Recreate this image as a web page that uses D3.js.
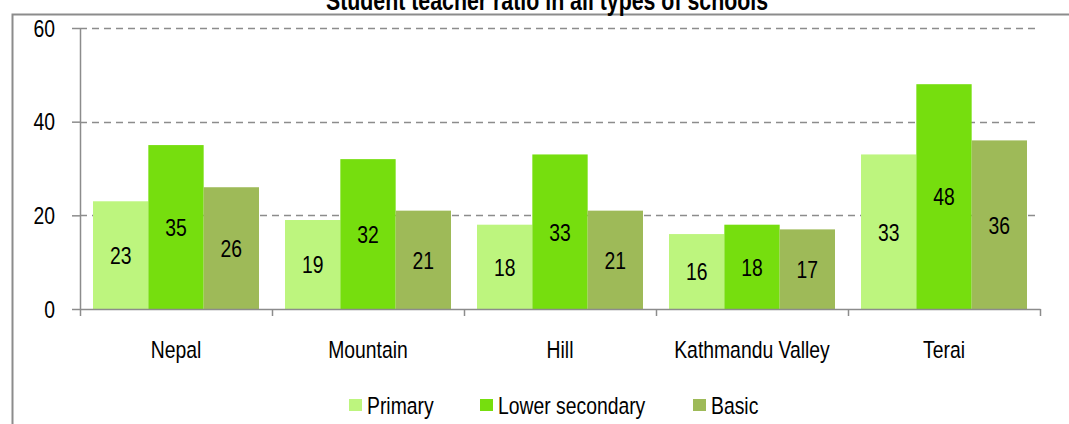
<!DOCTYPE html>
<html>
<head>
<meta charset="utf-8">
<script src="https://cdn.jsdelivr.net/npm/d3@7"></script>
<style>
  html, body { margin: 0; padding: 0; background: #ffffff; }
  svg { display: block; }
  text { font-family: "Liberation Sans", Arial, sans-serif; fill: #000; }
</style>
</head>
<body>
<script>
// Student teacher ratio by region and school type
const regions = ["Nepal", "Mountain", "Hill", "Kathmandu Valley", "Terai"];
const seriesNames = ["Primary", "Lower secondary", "Basic"];
const primary = [23, 19, 18, 16, 33];
const lowerSecondary = [35, 32, 33, 18, 48];
const basic = [26, 21, 21, 17, 36];
const yTicks = [0, 20, 40, 60];
const colors = ["#bdf57e", "#76de0e", "#9eba58"];
const titleText = "Student teacher ratio in all types of schools";

const seriesValues = [primary, lowerSecondary, basic];

const W = 1069, H = 424;
const plot = { left: 80, right: 1040, top: 28, bottom: 309 };
const textScale = 0.79;     // narrow rendering of all labels
const fontSize = 24.5;
const grey = "#8c8c8c";

const svg = d3.select("body").append("svg")
  .attr("width", W).attr("height", H);

// chart frame
svg.append("path")
  .attr("d", `M12.5,${H} L12.5,14.5 L${W},14.5`)
  .attr("fill", "none").attr("stroke", grey).attr("stroke-width", 2);

const y = d3.scaleLinear().domain([0, 60]).range([plot.bottom, plot.top]);
const x0 = d3.scaleBand().domain(regions).range([plot.left, plot.right])
  .paddingInner(0).paddingOuter(0);
const x1 = d3.scaleBand().domain(seriesNames).range([0, x0.bandwidth()])
  .paddingInner(0).paddingOuter(0.235);

// helper: narrow text placed with a transform
function label(g, tx, ty, str, anchor, size, weight) {
  return g.append("text")
    .attr("transform", `translate(${tx},${ty}) scale(${textScale},1)`)
    .attr("text-anchor", anchor)
    .attr("dy", "0.36em")
    .style("font-size", (size || fontSize) + "px")
    .style("font-weight", weight || "normal")
    .text(str);
}

// dashed gridlines
svg.append("g").selectAll("line")
  .data(yTicks.filter(t => t > 0))
  .join("line")
  .attr("x1", plot.left).attr("x2", plot.right)
  .attr("y1", d => Math.round(y(d)) + 0.5).attr("y2", d => Math.round(y(d)) + 0.5)
  .attr("stroke", grey).attr("stroke-width", 1.5)
  .attr("stroke-dasharray", "7,5");

// bars
const groups = svg.append("g").selectAll("g")
  .data(regions)
  .join("g")
  .attr("transform", d => `translate(${x0(d)},0)`);

groups.each(function (region, i) {
  const g = d3.select(this);
  seriesNames.forEach((s, k) => {
    const v = seriesValues[k][i];
    g.append("rect")
      .attr("x", x1(s)).attr("width", x1.bandwidth())
      .attr("y", y(v)).attr("height", y(0) - y(v))
      .attr("fill", colors[k]);
    label(g, x1(s) + x1.bandwidth() / 2, (y(v) + y(0)) / 2, String(v), "middle");
  });
});

// y axis
const yAxis = svg.append("g")
  .attr("transform", `translate(${plot.left},0)`)
  .call(d3.axisLeft(y).tickValues(yTicks).tickSize(8).tickSizeOuter(0).tickFormat(""));
yAxis.selectAll("path, line").attr("stroke", grey).attr("stroke-width", 1.5);
yTicks.forEach(t => label(svg, 55, y(t), String(t), "end"));

// x axis with boundary ticks
const xb = d3.scaleLinear().domain([0, regions.length]).range([plot.left, plot.right]);
const xAxis = svg.append("g")
  .attr("transform", `translate(0,${plot.bottom})`)
  .call(d3.axisBottom(xb).tickValues(d3.range(regions.length + 1)).tickSize(7).tickSizeOuter(0).tickFormat(""));
xAxis.selectAll("path, line").attr("stroke", grey).attr("stroke-width", 1.5);
regions.forEach(r => label(svg, x0(r) + x0.bandwidth() / 2, plot.bottom + 40.5, r, "middle"));

// title
label(svg, 547, 0, titleText, "middle", 27, "bold");

// legend
const legendItems = [
  { name: seriesNames[0], x: 349 },
  { name: seriesNames[1], x: 480 },
  { name: seriesNames[2], x: 693 }
];
const legend = svg.append("g");
legendItems.forEach((d, k) => {
  legend.append("rect")
    .attr("x", d.x).attr("y", 399).attr("width", 13).attr("height", 12)
    .attr("fill", colors[k]);
  label(legend, d.x + 18, 405.5, d.name, "start");
});
</script>
</body>
</html>
